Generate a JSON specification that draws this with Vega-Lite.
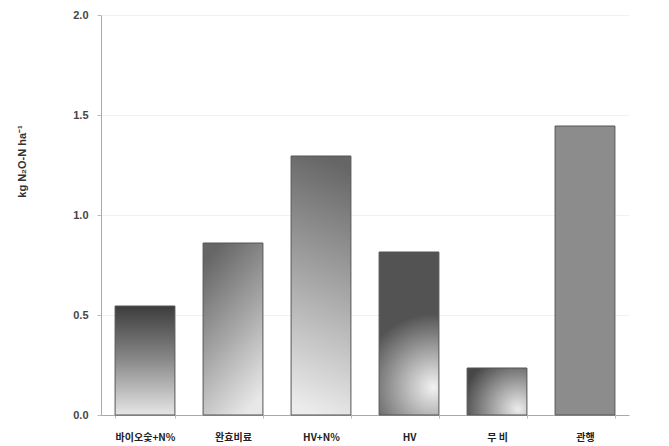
{
  "$schema": "https://vega.github.io/schema/vega-lite/v6.json",
  "width": 528,
  "height": 400,
  "autosize": "none",
  "padding": {"left": 101, "top": 15, "right": 40, "bottom": 31},
  "background": "white",
  "data": {"values": [
    {"t": "바이오숯+N%", "v": 0.545},
    {"t": "완효비료", "v": 0.86},
    {"t": "HV+N%", "v": 1.295},
    {"t": "HV", "v": 0.815},
    {"t": "무 비", "v": 0.235},
    {"t": "관행", "v": 1.445}
  ]},
  "mark": {"type": "bar", "stroke": "#555555", "strokeWidth": 1},
  "encoding": {
    "x": {"field": "t", "type": "nominal", "sort": null,
      "scale": {"paddingInner": 0.32, "paddingOuter": 0.16},
      "axis": {"title": null, "labelAngle": 0, "labelFont": "Noto Sans CJK KR", "labelFontWeight": "bold", "labelFontSize": 10, "labelColor": "#222", "labelPadding": 14, "ticks": true, "tickBand": "extent", "tickSize": 3, "tickColor": "#bbb", "domainColor": "#aaa", "domainWidth": 1}},
    "y": {"field": "v", "type": "quantitative",
      "scale": {"domain": [0, 2]},
      "axis": {"values": [0, 0.5, 1, 1.5, 2], "format": ".1f", "title": "kg N₂O-N ha⁻¹",
        "titleFont": "Liberation Sans", "titleFontSize": 11, "titleFontWeight": "bold", "titleColor": "#333",
        "titleX": -79, "titleY": 146, "titleAngle": 270, "titleAlign": "center", "titleBaseline": "middle",
        "labelFont": "Liberation Sans", "labelFontWeight": "bold", "labelFontSize": 11, "labelColor": "#444", "labelPadding": 9,
        "tickSize": 4, "tickColor": "#bbb", "domainColor": "#aaa", "grid": true, "gridColor": "#f2f2f2"}},
    "fill": {
      "condition": [
        {"test": "datum.t === '바이오숯+N%'", "value": {"gradient": "linear", "x1": 0, "y1": 0, "x2": 0, "y2": 1, "stops": [{"offset": 0, "color": "#3c3c3c"}, {"offset": 0.5, "color": "#8a8a8a"}, {"offset": 1, "color": "#e6e6e6"}]}},
        {"test": "datum.t === '완효비료'", "value": {"gradient": "linear", "x1": 0.3, "y1": 0, "x2": 0.7, "y2": 1, "stops": [{"offset": 0, "color": "#666666"}, {"offset": 0.5, "color": "#a5a5a5"}, {"offset": 1, "color": "#e8e8e8"}]}},
        {"test": "datum.t === 'HV+N%'", "value": {"gradient": "linear", "x1": 0.5, "y1": 0, "x2": 0.4, "y2": 1, "stops": [{"offset": 0, "color": "#666666"}, {"offset": 0.5, "color": "#a8a8a8"}, {"offset": 1, "color": "#ececec"}]}},
        {"test": "datum.t === 'HV'", "value": {"gradient": "radial", "x1": 0.65, "y1": 0.83, "r1": 0, "x2": 0.65, "y2": 0.83, "r2": 0.45, "stops": [{"offset": 0, "color": "#f2f2f2"}, {"offset": 1, "color": "#535353"}]}},
        {"test": "datum.t === '무 비'", "value": {"gradient": "radial", "x1": 0.85, "y1": 0.8, "r1": 0, "x2": 0.85, "y2": 0.8, "r2": 0.95, "stops": [{"offset": 0, "color": "#ececec"}, {"offset": 1, "color": "#474747"}]}}
      ],
      "value": "#8c8c8c"
    }
  },
  "config": {"view": {"stroke": null}}
}
